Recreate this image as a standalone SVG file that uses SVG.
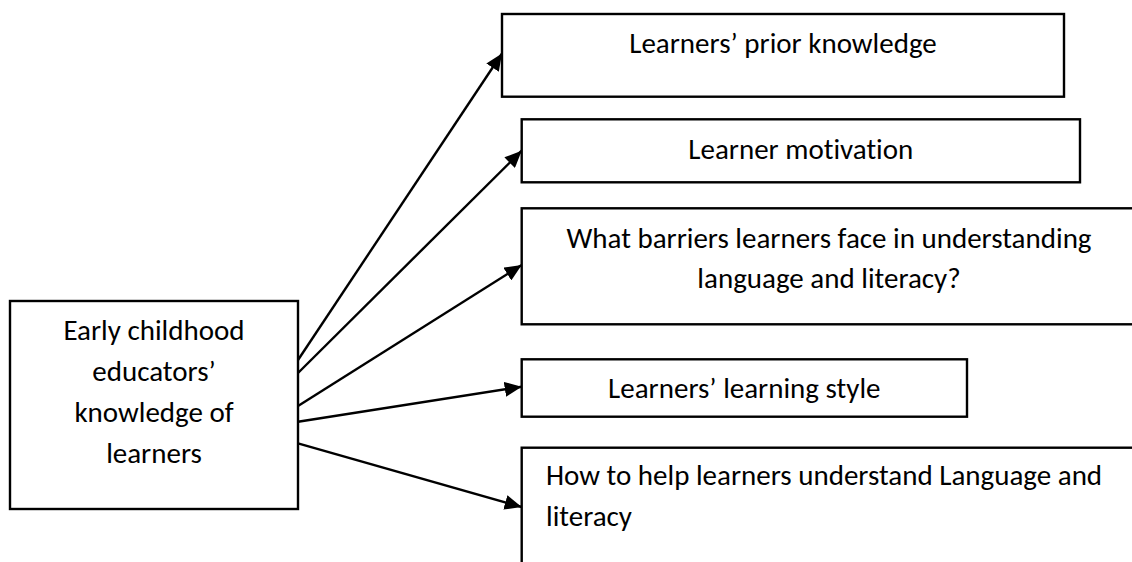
<svg xmlns="http://www.w3.org/2000/svg" width="1132" height="562" viewBox="0 0 1132 562">
  <style>
    .box { fill: #ffffff; stroke: #000000; stroke-width: 2.4; }
    .lbl { font-family: Carlito, Calibri, Lato, "Open Sans", sans-serif; font-size: 29px; fill: #000000; font-variant-ligatures: none; }
    .mid { text-anchor: middle; }
    .link { stroke: #000000; stroke-width: 2.4; fill: none; marker-end: url(#head); }
  </style>
  <defs>
    <marker id="head" markerUnits="userSpaceOnUse" markerWidth="17" markerHeight="15" refX="17" refY="7.5" orient="auto">
      <path d="M0,0 L17,7.5 L0,15 z" fill="#000000"/>
    </marker>
  </defs>
  <rect width="1132" height="562" fill="#ffffff"/>

  <g id="connectors">
    <line class="link" x1="298" y1="360" x2="502" y2="53.5"/>
    <line class="link" x1="298" y1="373" x2="521.7" y2="150.7"/>
    <line class="link" x1="298" y1="406" x2="521.7" y2="265"/>
    <line class="link" x1="298" y1="421.7" x2="521.7" y2="386.7"/>
    <line class="link" x1="298" y1="443.3" x2="521.7" y2="507"/>
  </g>

  <g id="educators-knowledge">
    <rect class="box" x="10" y="301" width="288" height="208"/>
    <text class="lbl mid" x="154" y="340">Early childhood</text>
    <text class="lbl mid" x="154" y="381">educators’</text>
    <text class="lbl mid" x="154" y="422">knowledge of</text>
    <text class="lbl mid" x="154" y="463">learners</text>
  </g>

  <g id="prior-knowledge">
    <rect class="box" x="502" y="14" width="562" height="82.7"/>
    <text class="lbl mid" x="783" y="52.7">Learners’ prior knowledge</text>
  </g>

  <g id="motivation">
    <rect class="box" x="521.7" y="119.3" width="558.3" height="63"/>
    <text class="lbl mid" x="800.8" y="159.3">Learner motivation</text>
  </g>

  <g id="barriers">
    <rect class="box" x="521.7" y="208.3" width="614.3" height="116"/>
    <text class="lbl mid" x="829" y="248.3">What barriers learners face in understanding</text>
    <text class="lbl mid" x="829" y="288.3">language and literacy?</text>
  </g>

  <g id="learning-style">
    <rect class="box" x="521.7" y="359.3" width="445.3" height="57.4"/>
    <text class="lbl mid" x="744.3" y="398">Learners’ learning style</text>
  </g>

  <g id="help-understand">
    <rect class="box" x="521.7" y="447.7" width="700" height="200"/>
    <text class="lbl" x="546" y="485">How to help learners understand Language and</text>
    <text class="lbl" x="546" y="526">literacy</text>
  </g>
</svg>
